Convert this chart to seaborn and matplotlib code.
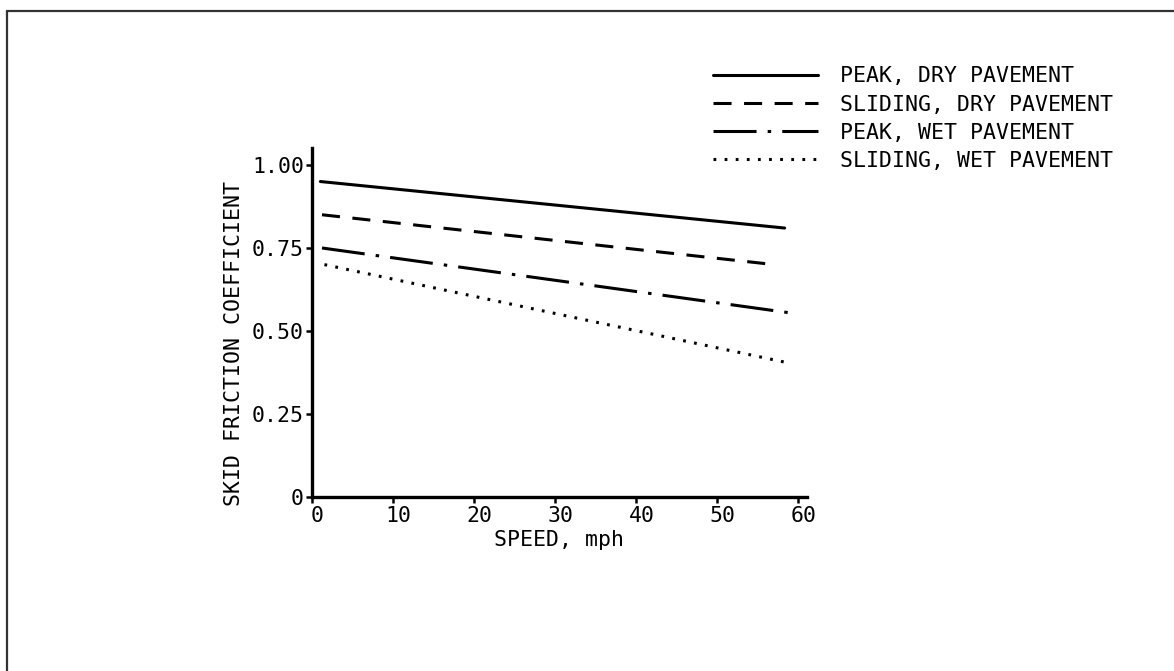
import pandas as pd
import matplotlib.pyplot as plt
import seaborn as sns
from matplotlib.lines import Line2D
from matplotlib.transforms import ScaledTranslation

# values (start / end of each straight line)
speed_peak_dry = [1.0, 58.3]
peak_dry = [0.95, 0.81]
speed_sliding_dry = [1.2, 57.0]
sliding_dry = [0.85, 0.70]
speed_peak_wet = [1.2, 58.9]
peak_wet = [0.75, 0.555]
speed_sliding_wet = [1.5, 58.6]
sliding_wet = [0.70, 0.405]

labels = ["PEAK, DRY PAVEMENT", "SLIDING, DRY PAVEMENT",
          "PEAK, WET PAVEMENT", "SLIDING, WET PAVEMENT"]
xticks = [0, 10, 20, 30, 40, 50, 60]
yticks = [0, 0.25, 0.50, 0.75, 1.00]
ytick_labels = ["0", "0.25", "0.50", "0.75", "1.00"]

series = [(speed_peak_dry, peak_dry), (speed_sliding_dry, sliding_dry),
          (speed_peak_wet, peak_wet), (speed_sliding_wet, sliding_wet)]
df = pd.concat([
    pd.DataFrame({"speed": xs, "mu": ys, "case": lab})
    for lab, (xs, ys) in zip(labels, series)
])

sns.set_style("ticks")
plt.rcParams["font.family"] = ["DejaVu Sans Mono"]
plt.rcParams["text.color"] = "black"
plt.rcParams["axes.labelcolor"] = "black"
plt.rcParams["lines.scale_dashes"] = False
fs = 15.5

fig = plt.figure(figsize=(11.74, 6.71), dpi=100)
ax = fig.add_axes([0.266, 0.259, 0.421, 0.52])

dashes = {
    labels[0]: "",
    labels[1]: (13, 9),
    labels[2]: (31, 8, 2.5, 8),
    labels[3]: (2, 6),
}
sns.lineplot(data=df, x="speed", y="mu", style="case", dashes=dashes,
             color="black", linewidth=2.2, ax=ax, legend=False)

ax.set_xlim(0, 61)
ax.set_ylim(0, 1.05)
ax.set_xticks(xticks)
ax.set_xticklabels([str(t) for t in xticks], fontsize=fs)
ax.set_yticks(yticks)
ax.set_yticklabels(ytick_labels, fontsize=fs)
ax.tick_params(direction="out", length=4, width=1.8, pad=2, colors="black")
# scanned labels sit a little right of their ticks
shift = ScaledTranslation(5 / 100, 0, fig.dpi_scale_trans)
for lab in ax.get_xticklabels():
    lab.set_transform(lab.get_transform() + shift)
for s in ["top", "right"]:
    ax.spines[s].set_visible(False)
for s in ["left", "bottom"]:
    ax.spines[s].set_linewidth(2.4)
    ax.spines[s].set_color("black")

ax.set_xlabel("SPEED, mph", fontsize=fs, labelpad=3)
ax.set_ylabel("SKID FRICTION COEFFICIENT", fontsize=fs)
ax.yaxis.set_label_coords(-0.138, 0.44)

handles = [Line2D([], [], color="black", linewidth=2.2,
                  linestyle=(0, dashes[l]) if dashes[l] else "-") for l in labels]
fig.legend(handles, labels, loc="upper left", bbox_to_anchor=(0.598, 0.917),
           frameon=False, fontsize=fs, handlelength=4.9, handletextpad=1.0,
           labelspacing=0.38, borderpad=0)

# scanned page border (top and left edges only)
fig.add_artist(Line2D([7 / 1174, 1], [1 - 11 / 671, 1 - 11 / 671],
                      color="#333333", linewidth=1.6, transform=fig.transFigure))
fig.add_artist(Line2D([7 / 1174, 7 / 1174], [0, 1 - 11 / 671],
                      color="#333333", linewidth=1.6, transform=fig.transFigure))

fig.savefig("out.png", dpi=100, facecolor="white")
